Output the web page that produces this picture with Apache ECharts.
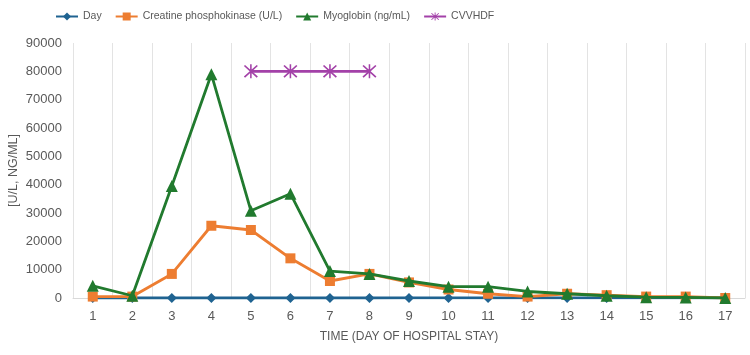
<!DOCTYPE html>
<html>
<head>
<meta charset="utf-8">
<script src="https://cdn.jsdelivr.net/npm/echarts@6/dist/echarts.min.js"></script>
<style>
  html, body { margin: 0; padding: 0; background: #fff; }
  #chart { width: 750px; height: 355px; }
</style>
</head>
<body>
<div id="chart"></div>
<script>
// Chart data
const days = ['1', '2', '3', '4', '5', '6', '7', '8', '9', '10', '11', '12', '13', '14', '15', '16', '17'];
const dayValues = [1, 2, 3, 4, 5, 6, 7, 8, 9, 10, 11, 12, 13, 14, 15, 16, 17];
const cpkValues = [500, 500, 8500, 25500, 24000, 14000, 6000, 8500, 5500, 3000, 1500, 500, 1500, 1000, 500, 500, 0];
const myoglobinValues = [4300, 800, 39500, 79000, 30800, 36800, 9500, 8500, 6000, 4000, 4000, 2300, 1500, 800, 300, 200, 0];
const cvvhdfValues = [null, null, null, null, 80000, 80000, 80000, 80000, null, null, null, null, null, null, null, null, null];

const FONT = "'Liberation Sans', sans-serif";
const GREY = '#595959';

// asterisk marker: vertical bar plus two diagonals
const starPath = 'path://M-0.8,-8 L0.8,-8 L0.8,8 L-0.8,8 Z ' +
  'M-7.2,-6 L-6,-7.2 L7.2,6 L6,7.2 Z ' +
  'M6,-7.2 L7.2,-6 L-6,7.2 L-7.2,6 Z';

const chart = echarts.init(document.getElementById('chart'));

const option = {
  animation: false,
  textStyle: { fontFamily: FONT },
  legend: {
    top: 6,
    left: 50,
    itemGap: 13,
    itemWidth: 22,
    itemHeight: 10,
    textStyle: { color: GREY, fontSize: 10.5, fontFamily: FONT },
    data: ['Day', 'Creatine phosphokinase (U/L)', 'Myoglobin (ng/mL)', 'CVVHDF']
  },
  grid: {
    left: 73,
    right: 5,
    top: 43,
    bottom: 57,
    containLabel: false,
    outerBoundsMode: 'none'
  },
  xAxis: {
    type: 'category',
    data: days,
    boundaryGap: true,
    name: 'TIME (DAY OF HOSPITAL STAY)',
    nameLocation: 'middle',
    nameGap: 33,
    nameTextStyle: { color: GREY, fontSize: 12, fontFamily: FONT },
    axisLine: { lineStyle: { color: '#d9d9d9' } },
    axisTick: { show: false },
    axisLabel: { color: GREY, fontSize: 13, margin: 12 },
    splitLine: { show: true, lineStyle: { color: '#e3e3e3' } }
  },
  yAxis: {
    type: 'value',
    min: 0,
    max: 90000,
    interval: 10000,
    name: '[U/L, NG/ML]',
    nameLocation: 'middle',
    nameGap: 53,
    nameMoveOverlap: false,
    nameRotate: 90,
    nameTextStyle: { color: GREY, fontSize: 12.5, fontFamily: FONT },
    axisLine: { show: false },
    axisTick: { show: false },
    axisLabel: {
      color: GREY,
      fontSize: 13,
      margin: 11,
      formatter: (v) => String(v)
    },
    splitLine: { show: false }
  },
  series: [
    {
      name: 'Day',
      type: 'line',
      data: dayValues,
      symbol: 'diamond',
      symbolSize: 10,
      lineStyle: { color: '#1f6391', width: 2.8 },
      itemStyle: { color: '#1f6391' },
      z: 2
    },
    {
      name: 'Creatine phosphokinase (U/L)',
      type: 'line',
      data: cpkValues,
      symbol: 'rect',
      symbolSize: 10,
      lineStyle: { color: '#ed7d31', width: 2.8 },
      itemStyle: { color: '#ed7d31' },
      z: 3
    },
    {
      name: 'Myoglobin (ng/mL)',
      type: 'line',
      data: myoglobinValues,
      symbol: 'triangle',
      symbolSize: 12,
      lineStyle: { color: '#217a2e', width: 2.8 },
      itemStyle: { color: '#217a2e' },
      z: 4
    },
    {
      name: 'CVVHDF',
      type: 'line',
      data: cvvhdfValues,
      symbol: starPath,
      symbolSize: 14,
      connectNulls: false,
      lineStyle: { color: '#a341a8', width: 2.8 },
      itemStyle: { color: '#a341a8' },
      z: 5
    }
  ]
};

chart.setOption(option);

window.addEventListener('resize', () => {
  chart.resize();
});
</script>
</body>
</html>
